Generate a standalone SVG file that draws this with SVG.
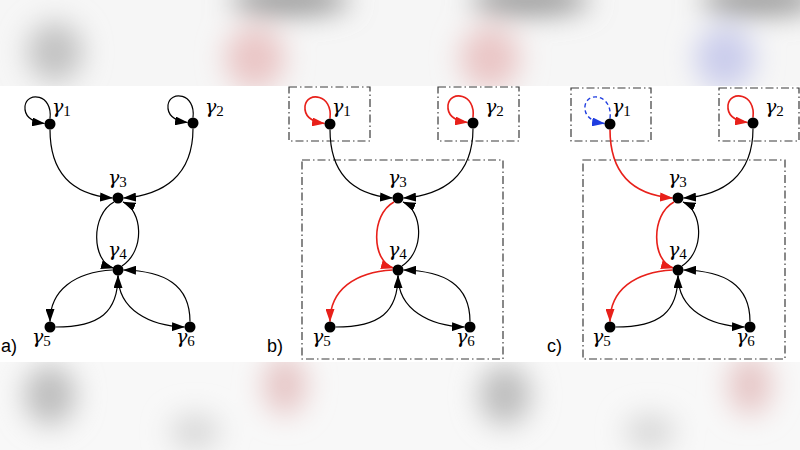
<svg xmlns="http://www.w3.org/2000/svg" width="800" height="450" viewBox="0 0 800 450">
<defs>
<filter id="blur" x="-50%" y="-50%" width="200%" height="200%"><feGaussianBlur stdDeviation="14"/></filter>
<clipPath id="topclip"><rect x="0" y="0" width="800" height="86"/></clipPath>
<clipPath id="botclip"><rect x="0" y="362" width="800" height="88"/></clipPath>
<marker id="ak" markerUnits="userSpaceOnUse" markerWidth="13" markerHeight="9" refX="12.5" refY="4.5" orient="auto"><path d="M0,0 L13,4.5 L0,9 Z" fill="#000"/></marker>
<marker id="ar" markerUnits="userSpaceOnUse" markerWidth="13" markerHeight="9" refX="12.5" refY="4.5" orient="auto"><path d="M0,0 L13,4.5 L0,9 Z" fill="#e8201a"/></marker>
<marker id="ab" markerUnits="userSpaceOnUse" markerWidth="13" markerHeight="9" refX="12.5" refY="4.5" orient="auto"><path d="M0,0 L13,4.5 L0,9 Z" fill="#1f3de0"/></marker>
</defs>
<style>
.e{fill:none;stroke:#000;stroke-width:1.2;marker-end:url(#ak)}
.r{fill:none;stroke:#e8201a;stroke-width:1.6;marker-end:url(#ar)}
.b{fill:none;stroke:#1f3de0;stroke-width:1.4;stroke-dasharray:4 3;marker-end:url(#ab)}
.box{fill:none;stroke:#3a3a3a;stroke-width:1.2;stroke-dasharray:8 3 1.5 3}
.n{fill:#000}
.lab{font-family:"DejaVu Serif",serif;font-style:italic;font-size:19px;fill:#000}
.sub{font-family:"Liberation Serif",serif;font-style:normal;font-size:15px}
.pl{font-family:"Liberation Sans",Arial,sans-serif;font-size:18px;fill:#000}
</style>
<rect width="800" height="450" fill="#fff"/>
<g id="background">
<g clip-path="url(#topclip)">
<rect x="0" y="0" width="800" height="86" fill="#f6f6f6"/>
<g filter="url(#blur)">
<ellipse cx="55" cy="52" rx="28" ry="30" fill="#c2c2c2"/>
<ellipse cx="255" cy="58" rx="30" ry="32" fill="#eac6c6"/>
<ellipse cx="490" cy="58" rx="30" ry="32" fill="#eac6c6"/>
<ellipse cx="725" cy="58" rx="30" ry="32" fill="#cbcdec"/>
<ellipse cx="290" cy="0" rx="60" ry="14" fill="#909090"/>
<ellipse cx="530" cy="0" rx="60" ry="14" fill="#909090"/>
<ellipse cx="760" cy="0" rx="60" ry="14" fill="#909090"/>
</g>
</g>
<g clip-path="url(#botclip)">
<rect x="0" y="362" width="800" height="88" fill="#f8f8f8"/>
<g filter="url(#blur)">
<ellipse cx="50" cy="395" rx="26" ry="30" fill="#bdbdbd"/>
<ellipse cx="285" cy="385" rx="22" ry="30" fill="#e6c6c6"/>
<ellipse cx="505" cy="395" rx="26" ry="30" fill="#bdbdbd"/>
<ellipse cx="750" cy="385" rx="22" ry="30" fill="#e6c6c6"/>
<ellipse cx="195" cy="432" rx="25" ry="18" fill="#d8d8d8"/>
<ellipse cx="650" cy="432" rx="25" ry="18" fill="#d8d8d8"/>
</g>
</g>
</g>

<!-- Panel a -->
<g id="panel-a">
<g id="a-connectors">
<path class="e" d="M50,118.5 C53,94 27,91 25,106 C24,117 33,122 44.5,123.5"/>
<path class="e" d="M193,117.5 C196,93 170,90 168,105 C167,116 176,121 187.5,122.5"/>
<path class="e" d="M50,129.5 C50,176 76,195 112.5,198"/>
<path class="e" d="M193,128.5 C193,176 163,195 123.5,198"/>
<path class="e" d="M114,202 C90,215 92,262 113.5,268"/>
<path class="e" d="M122,266 C146,250 142,210 123,202"/>
<path class="e" d="M112.5,270 C75,272 50,290 50,321.5"/>
<path class="e" d="M55.5,327 C100,327 118,312 118,275.5"/>
<path class="e" d="M118,275.5 C118,310 150,326 184.5,327"/>
<path class="e" d="M190,321.5 C190,285 165,271 123.5,270"/>
</g>
<g id="a-g1"><circle class="n" cx="50" cy="124" r="5.5"/><text class="lab" x="52" y="113">γ<tspan class="sub" dy="3">1</tspan></text></g>
<g id="a-g2"><circle class="n" cx="193" cy="123" r="5.5"/><text class="lab" x="205" y="113">γ<tspan class="sub" dy="3">2</tspan></text></g>
<g id="a-g3"><circle class="n" cx="118" cy="198" r="5.5"/><text class="lab" x="108" y="184">γ<tspan class="sub" dy="3">3</tspan></text></g>
<g id="a-g4"><circle class="n" cx="118" cy="270" r="5.5"/><text class="lab" x="108" y="256">γ<tspan class="sub" dy="3">4</tspan></text></g>
<g id="a-g5"><circle class="n" cx="50" cy="327" r="5.5"/><text class="lab" x="32" y="343">γ<tspan class="sub" dy="3">5</tspan></text></g>
<g id="a-g6"><circle class="n" cx="190" cy="327" r="5.5"/><text class="lab" x="176" y="343">γ<tspan class="sub" dy="3">6</tspan></text></g>
<text class="pl" x="1" y="352">a)</text>
</g>

<!-- Panel b -->
<g id="panel-b" transform="translate(280,0)">
<rect class="box" x="9" y="87" width="81" height="54"/>
<rect class="box" x="158" y="87" width="81" height="54"/>
<rect class="box" x="22" y="160" width="201" height="199"/>
<g id="b-connectors">
<path class="r" d="M50,118.5 C53,94 27,91 25,106 C24,117 33,122 44.5,123.5"/>
<path class="r" d="M193,117.5 C196,93 170,90 168,105 C167,116 176,121 187.5,122.5"/>
<path class="e" d="M50,129.5 C50,176 76,195 112.5,198"/>
<path class="e" d="M193,128.5 C193,176 163,195 123.5,198"/>
<path class="r" d="M114,202 C90,215 92,262 113.5,268"/>
<path class="e" d="M122,266 C146,250 142,210 123,202"/>
<path class="r" d="M112.5,270 C75,272 50,290 50,321.5"/>
<path class="e" d="M55.5,327 C100,327 118,312 118,275.5"/>
<path class="e" d="M118,275.5 C118,310 150,326 184.5,327"/>
<path class="e" d="M190,321.5 C190,285 165,271 123.5,270"/>
</g>
<g id="b-g1"><circle class="n" cx="50" cy="124" r="5.5"/><text class="lab" x="52" y="113">γ<tspan class="sub" dy="3">1</tspan></text></g>
<g id="b-g2"><circle class="n" cx="193" cy="123" r="5.5"/><text class="lab" x="205" y="113">γ<tspan class="sub" dy="3">2</tspan></text></g>
<g id="b-g3"><circle class="n" cx="118" cy="198" r="5.5"/><text class="lab" x="108" y="184">γ<tspan class="sub" dy="3">3</tspan></text></g>
<g id="b-g4"><circle class="n" cx="118" cy="270" r="5.5"/><text class="lab" x="108" y="256">γ<tspan class="sub" dy="3">4</tspan></text></g>
<g id="b-g5"><circle class="n" cx="50" cy="327" r="5.5"/><text class="lab" x="32" y="343">γ<tspan class="sub" dy="3">5</tspan></text></g>
<g id="b-g6"><circle class="n" cx="190" cy="327" r="5.5"/><text class="lab" x="176" y="343">γ<tspan class="sub" dy="3">6</tspan></text></g>
<text class="pl" x="-13" y="352">b)</text>
</g>

<!-- Panel c -->
<g id="panel-c" transform="translate(560,0)">
<rect class="box" x="11" y="88" width="80" height="53"/>
<rect class="box" x="159" y="88" width="80" height="53"/>
<rect class="box" x="23" y="160" width="202" height="199"/>
<g id="c-connectors">
<path class="b" d="M50,118.5 C53,94 27,91 25,106 C24,117 33,122 44.5,123.5"/>
<path class="r" d="M193,117.5 C196,93 170,90 168,105 C167,116 176,121 187.5,122.5"/>
<path class="r" d="M50,129.5 C50,176 76,195 112.5,198"/>
<path class="e" d="M193,128.5 C193,176 163,195 123.5,198"/>
<path class="r" d="M114,202 C90,215 92,262 113.5,268"/>
<path class="e" d="M122,266 C146,250 142,210 123,202"/>
<path class="r" d="M112.5,270 C75,272 50,290 50,321.5"/>
<path class="e" d="M55.5,327 C100,327 118,312 118,275.5"/>
<path class="e" d="M118,275.5 C118,310 150,326 184.5,327"/>
<path class="e" d="M190,321.5 C190,285 165,271 123.5,270"/>
</g>
<g id="c-g1"><circle class="n" cx="50" cy="124" r="5.5"/><text class="lab" x="52" y="113">γ<tspan class="sub" dy="3">1</tspan></text></g>
<g id="c-g2"><circle class="n" cx="193" cy="123" r="5.5"/><text class="lab" x="205" y="113">γ<tspan class="sub" dy="3">2</tspan></text></g>
<g id="c-g3"><circle class="n" cx="118" cy="198" r="5.5"/><text class="lab" x="108" y="184">γ<tspan class="sub" dy="3">3</tspan></text></g>
<g id="c-g4"><circle class="n" cx="118" cy="270" r="5.5"/><text class="lab" x="108" y="256">γ<tspan class="sub" dy="3">4</tspan></text></g>
<g id="c-g5"><circle class="n" cx="50" cy="327" r="5.5"/><text class="lab" x="32" y="343">γ<tspan class="sub" dy="3">5</tspan></text></g>
<g id="c-g6"><circle class="n" cx="190" cy="327" r="5.5"/><text class="lab" x="176" y="343">γ<tspan class="sub" dy="3">6</tspan></text></g>
<text class="pl" x="-13" y="352">c)</text>
</g>
</svg>
